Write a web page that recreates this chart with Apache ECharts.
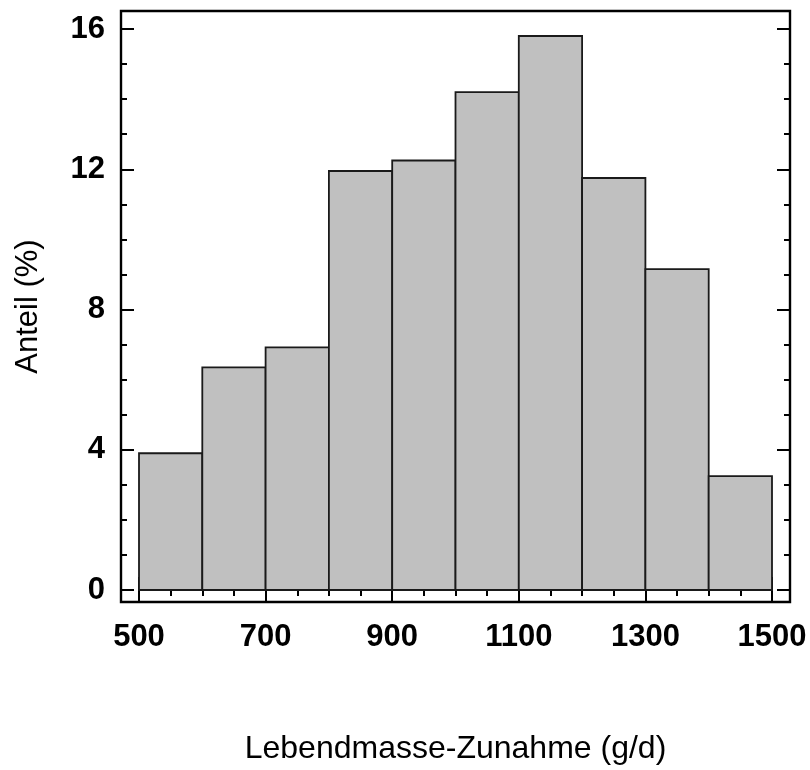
<!DOCTYPE html>
<html>
<head>
<meta charset="utf-8">
<script src="https://cdn.jsdelivr.net/npm/echarts@6/dist/echarts.min.js"></script>
<style>
html, body { margin: 0; padding: 0; background: #fff; }
#chart { width: 810px; height: 770px; }
</style>
</head>
<body>
<div id="chart"></div>
<script>
// Histogram data
const binEdges = [500, 600, 700, 800, 900, 1000, 1100, 1200, 1300, 1400, 1500];
const shares = [3.9, 6.35, 6.92, 11.95, 12.25, 14.2, 15.8, 11.75, 9.15, 3.25];
const xTickValues = [500, 700, 900, 1100, 1300, 1500];
const yTickValues = [0, 4, 8, 12, 16];
const xTitle = 'Lebendmasse-Zunahme (g/d)';
const yTitle = 'Anteil (%)';

const FONT = '"Liberation Sans", Arial, Helvetica, sans-serif';

const histData = shares.map((v, i) => [binEdges[i], binEdges[i + 1], v]);

const chart = echarts.init(document.getElementById('chart'), null, { renderer: 'canvas' });

const tickCommon = { show: true, inside: true, length: 13, lineStyle: { color: '#000', width: 2 } };
const minorCommon = { show: true, splitNumber: 4, length: 6, lineStyle: { color: '#000', width: 2 } };

const xMin = xTickValues[0], xMax = xTickValues[xTickValues.length - 1];
const yMin = yTickValues[0], yMax = yTickValues[yTickValues.length - 1];
const plain = v => String(v);

chart.setOption({
  animation: false,
  backgroundColor: '#fff',
  grid: [
    { left: 139, right: 38, top: 29, bottom: 180, show: false },
    { left: 121, right: 20, top: 11, bottom: 162, show: true, borderColor: '#000', borderWidth: 2.4, backgroundColor: 'transparent' }
  ],
  xAxis: [
    {
      gridIndex: 0, type: 'value', position: 'bottom', offset: 18,
      min: xMin, max: xMax, interval: 200,
      axisLine: { show: false },
      axisTick: tickCommon, minorTick: minorCommon,
      splitLine: { show: false },
      axisLabel: { show: true, margin: 14, color: '#000', fontFamily: FONT, fontWeight: 'bold', fontSize: 31, formatter: plain }
    },
    {
      gridIndex: 0, type: 'value', position: 'top', offset: 18,
      min: xMin, max: xMax, interval: 200,
      axisLine: { show: false },
      axisTick: tickCommon, minorTick: minorCommon,
      splitLine: { show: false },
      axisLabel: { show: false }
    },
    {
      gridIndex: 1, type: 'value', position: 'bottom', min: 0, max: 1,
      axisLine: { show: false }, axisTick: { show: false }, axisLabel: { show: false }, splitLine: { show: false },
      name: xTitle, nameLocation: 'middle', nameGap: 131,
      nameTextStyle: { color: '#000', fontFamily: FONT, fontSize: 32 }
    }
  ],
  yAxis: [
    {
      gridIndex: 0, type: 'value', position: 'left', offset: 18,
      min: yMin, max: yMax, interval: 4,
      axisLine: { show: false },
      axisTick: tickCommon, minorTick: minorCommon,
      splitLine: { show: false },
      axisLabel: { show: true, margin: 16, color: '#000', fontFamily: FONT, fontWeight: 'bold', fontSize: 31, formatter: plain }
    },
    {
      gridIndex: 0, type: 'value', position: 'right', offset: 18,
      min: yMin, max: yMax, interval: 4,
      axisLine: { show: false },
      axisTick: tickCommon, minorTick: minorCommon,
      splitLine: { show: false },
      axisLabel: { show: false }
    },
    {
      gridIndex: 1, type: 'value', position: 'left', min: 0, max: 1,
      axisLine: { show: false }, axisTick: { show: false }, axisLabel: { show: false }, splitLine: { show: false },
      name: yTitle, nameLocation: 'middle', nameGap: 77, nameRotate: 90,
      nameTextStyle: { color: '#000', fontFamily: FONT, fontSize: 31 }
    }
  ],
  series: [
    {
      type: 'custom',
      xAxisIndex: 0, yAxisIndex: 0,
      clip: false,
      encode: { x: [0, 1], y: 2 },
      data: histData,
      renderItem: function (params, api) {
        const p0 = api.coord([api.value(0), api.value(2)]);
        const p1 = api.coord([api.value(1), 0]);
        return {
          type: 'rect',
          shape: { x: p0[0], y: p0[1], width: p1[0] - p0[0], height: p1[1] - p0[1] },
          style: { fill: '#c0c0c0', stroke: '#1a1a1a', lineWidth: 1.8 }
        };
      }
    }
  ]
});
</script>
</body>
</html>
